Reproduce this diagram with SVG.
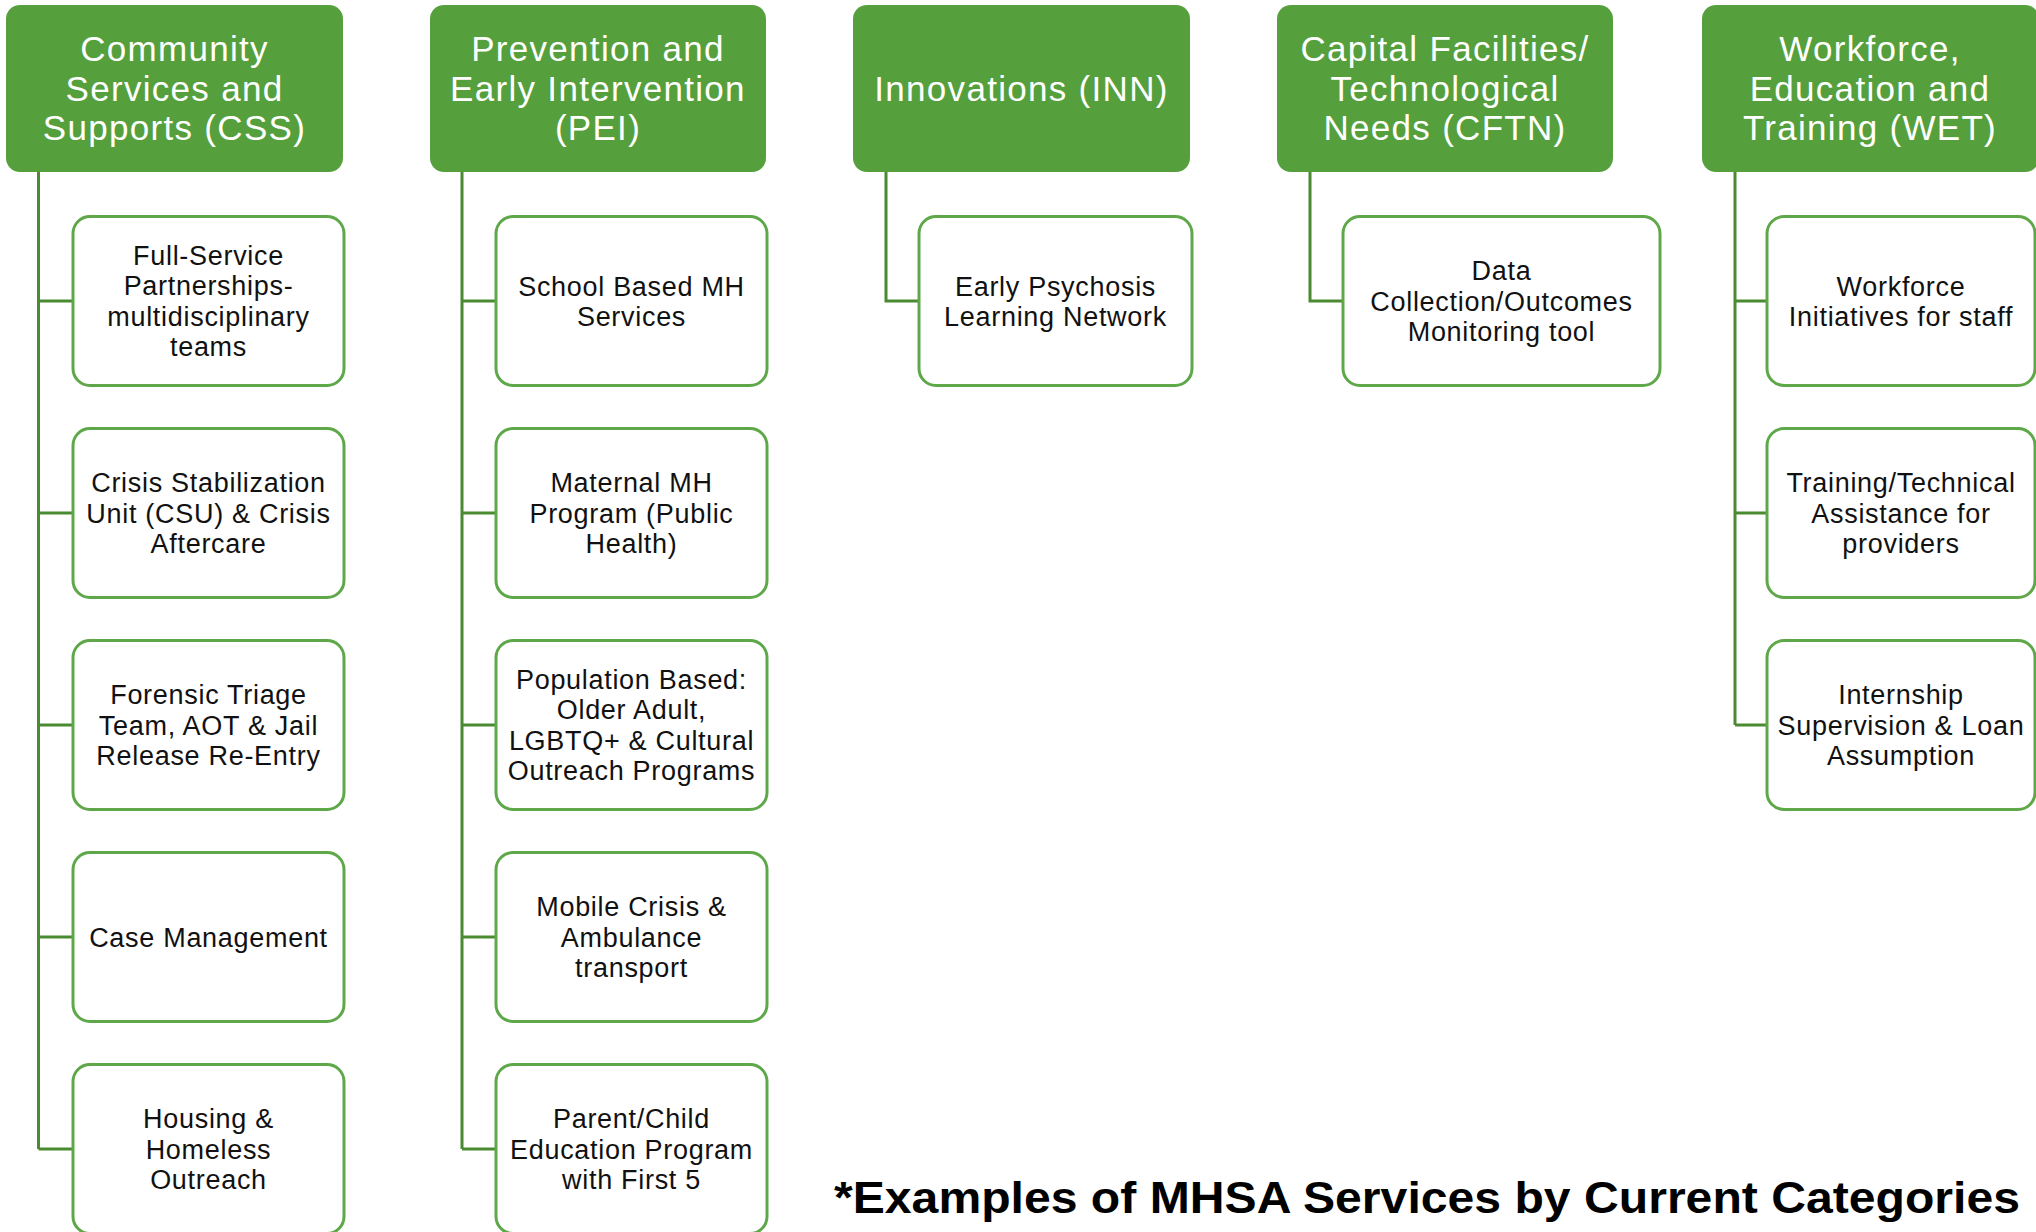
<svg xmlns="http://www.w3.org/2000/svg" width="2036" height="1232" viewBox="0 0 2036 1232">
<style>
.hdr{fill:#559F3C;}
.ht{font-family:"Liberation Sans",Arial,sans-serif;font-size:35px;letter-spacing:1.3px;fill:#FFFFFF;text-anchor:middle;}
.box{fill:#FFFFFF;stroke:#5FA84A;stroke-width:3;}
.bt{font-family:"Liberation Sans",Arial,sans-serif;font-size:27px;letter-spacing:0.7px;fill:#111111;text-anchor:middle;}
.con{fill:none;stroke:#4A8A30;stroke-width:3;}
.foot{font-family:"Liberation Sans",Arial,sans-serif;font-size:44px;font-weight:bold;fill:#000000;}
</style>
<rect width="2036" height="1232" fill="#FFFFFF"/>
<g id="connectors">
<path class="con" d="M38.5,172 V1149 M38.5,301 H73 M38.5,513 H73 M38.5,725 H73 M38.5,937 H73 M38.5,1149 H73"/>
<path class="con" d="M462,172 V1149 M462,301 H496 M462,513 H496 M462,725 H496 M462,937 H496 M462,1149 H496"/>
<path class="con" d="M886,172 V301 H919"/>
<path class="con" d="M1310,172 V301 H1343"/>
<path class="con" d="M1735,172 V725 M1735,301 H1767 M1735,513 H1767 M1735,725 H1767"/>
</g>
<g id="hdr-css"><rect class="hdr" x="6" y="5" width="337" height="167" rx="14"/>
<text class="ht"><tspan x="174.5" y="61">Community</tspan><tspan x="174.5" y="100.5">Services and</tspan><tspan x="174.5" y="140">Supports (CSS)</tspan></text></g>
<g id="hdr-pei"><rect class="hdr" x="430" y="5" width="336" height="167" rx="14"/>
<text class="ht"><tspan x="598" y="61">Prevention and</tspan><tspan x="598" y="100.5">Early Intervention</tspan><tspan x="598" y="140">(PEI)</tspan></text></g>
<g id="hdr-inn"><rect class="hdr" x="853" y="5" width="337" height="167" rx="14"/>
<text class="ht" x="1021.5" y="100.5">Innovations (INN)</text></g>
<g id="hdr-cftn"><rect class="hdr" x="1277" y="5" width="336" height="167" rx="14"/>
<text class="ht"><tspan x="1445" y="61">Capital Facilities/</tspan><tspan x="1445" y="100.5">Technological</tspan><tspan x="1445" y="140">Needs (CFTN)</tspan></text></g>
<g id="hdr-wet"><rect class="hdr" x="1702" y="5" width="337" height="167" rx="14"/>
<text class="ht"><tspan x="1870" y="61">Workforce,</tspan><tspan x="1870" y="100.5">Education and</tspan><tspan x="1870" y="140">Training (WET)</tspan></text></g>

<g id="css-1"><rect class="box" x="73" y="216.5" width="271" height="169" rx="17"/>
<text class="bt"><tspan x="208.5" y="264.5">Full-Service</tspan><tspan x="208.5" y="295">Partnerships-</tspan><tspan x="208.5" y="325.5">multidisciplinary</tspan><tspan x="208.5" y="356">teams</tspan></text></g>
<g id="css-2"><rect class="box" x="73" y="428.5" width="271" height="169" rx="17"/>
<text class="bt"><tspan x="208.5" y="492">Crisis Stabilization</tspan><tspan x="208.5" y="522.5">Unit (CSU) &amp; Crisis</tspan><tspan x="208.5" y="553">Aftercare</tspan></text></g>
<g id="css-3"><rect class="box" x="73" y="640.5" width="271" height="169" rx="17"/>
<text class="bt"><tspan x="208.5" y="704">Forensic Triage</tspan><tspan x="208.5" y="734.5">Team, AOT &amp; Jail</tspan><tspan x="208.5" y="765">Release Re-Entry</tspan></text></g>
<g id="css-4"><rect class="box" x="73" y="852.5" width="271" height="169" rx="17"/>
<text class="bt" x="208.5" y="946.5">Case Management</text></g>
<g id="css-5"><rect class="box" x="73" y="1064.5" width="271" height="169" rx="17"/>
<text class="bt"><tspan x="208.5" y="1128">Housing &amp;</tspan><tspan x="208.5" y="1158.5">Homeless</tspan><tspan x="208.5" y="1189">Outreach</tspan></text></g>

<g id="pei-1"><rect class="box" x="496" y="216.5" width="271" height="169" rx="17"/>
<text class="bt"><tspan x="631.5" y="295.5">School Based MH</tspan><tspan x="631.5" y="326">Services</tspan></text></g>
<g id="pei-2"><rect class="box" x="496" y="428.5" width="271" height="169" rx="17"/>
<text class="bt"><tspan x="631.5" y="492">Maternal MH</tspan><tspan x="631.5" y="522.5">Program (Public</tspan><tspan x="631.5" y="553">Health)</tspan></text></g>
<g id="pei-3"><rect class="box" x="496" y="640.5" width="271" height="169" rx="17"/>
<text class="bt"><tspan x="631.5" y="688.5">Population Based:</tspan><tspan x="631.5" y="719">Older Adult,</tspan><tspan x="631.5" y="749.5">LGBTQ+ &amp; Cultural</tspan><tspan x="631.5" y="780">Outreach Programs</tspan></text></g>
<g id="pei-4"><rect class="box" x="496" y="852.5" width="271" height="169" rx="17"/>
<text class="bt"><tspan x="631.5" y="916">Mobile Crisis &amp;</tspan><tspan x="631.5" y="946.5">Ambulance</tspan><tspan x="631.5" y="977">transport</tspan></text></g>
<g id="pei-5"><rect class="box" x="496" y="1064.5" width="271" height="169" rx="17"/>
<text class="bt"><tspan x="631.5" y="1128">Parent/Child</tspan><tspan x="631.5" y="1158.5">Education Program</tspan><tspan x="631.5" y="1189">with First 5</tspan></text></g>

<g id="inn-1"><rect class="box" x="919" y="216.5" width="273" height="169" rx="17"/>
<text class="bt"><tspan x="1055.5" y="295.5">Early Psychosis</tspan><tspan x="1055.5" y="326">Learning Network</tspan></text></g>

<g id="cftn-1"><rect class="box" x="1343" y="216.5" width="317" height="169" rx="17"/>
<text class="bt"><tspan x="1501.5" y="280">Data</tspan><tspan x="1501.5" y="310.5">Collection/Outcomes</tspan><tspan x="1501.5" y="341">Monitoring tool</tspan></text></g>

<g id="wet-1"><rect class="box" x="1767" y="216.5" width="268" height="169" rx="17"/>
<text class="bt"><tspan x="1901" y="295.5">Workforce</tspan><tspan x="1901" y="326">Initiatives for staff</tspan></text></g>
<g id="wet-2"><rect class="box" x="1767" y="428.5" width="268" height="169" rx="17"/>
<text class="bt"><tspan x="1901" y="492">Training/Technical</tspan><tspan x="1901" y="522.5">Assistance for</tspan><tspan x="1901" y="553">providers</tspan></text></g>
<g id="wet-3"><rect class="box" x="1767" y="640.5" width="268" height="169" rx="17"/>
<text class="bt"><tspan x="1901" y="704">Internship</tspan><tspan x="1901" y="734.5">Supervision &amp; Loan</tspan><tspan x="1901" y="765">Assumption</tspan></text></g>

<text class="foot" x="834" y="1213" textLength="1186" lengthAdjust="spacingAndGlyphs">*Examples of MHSA Services by Current Categories</text>
</svg>
